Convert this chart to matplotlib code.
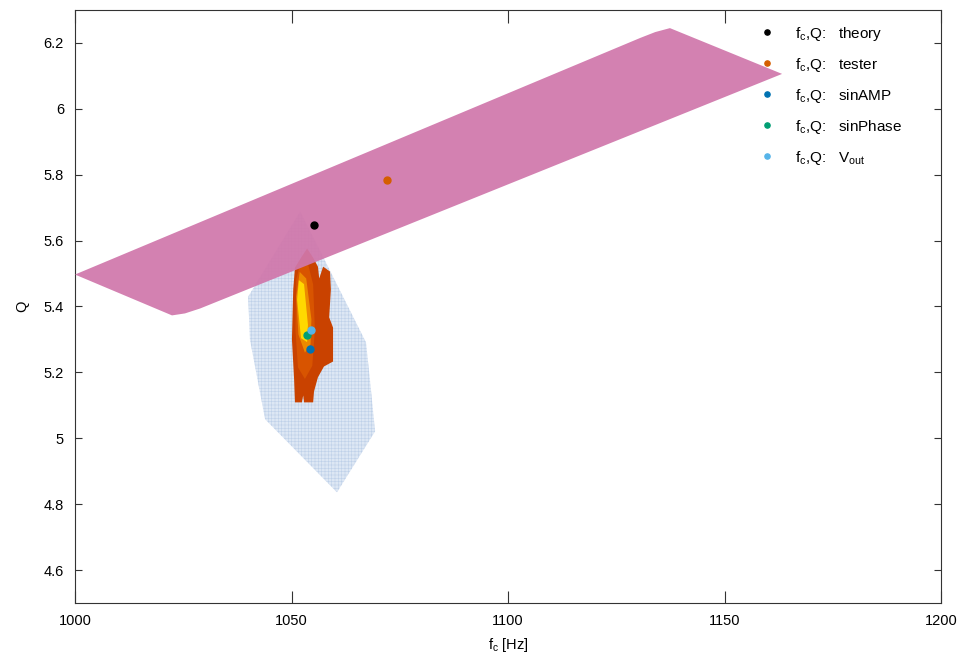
import matplotlib
matplotlib.use("Agg")
import matplotlib.pyplot as plt
from matplotlib.ticker import FormatStrFormatter

plt.rcParams['font.family'] = ['Liberation Sans', 'DejaVu Sans']
plt.rcParams['mathtext.default'] = 'regular'
plt.rcParams['hatch.linewidth'] = 0.4

# pink band (tester region)
band_fc = [1000.0, 1022.4, 1025.4, 1028.9, 1163.3, 1137.4, 1134.0, 1130.5]
band_q = [5.497, 5.373, 5.379, 5.394, 6.106, 6.245, 6.233, 6.215]

# light blue hatched region
blue_fc = [1052.0, 1057.0, 1067.2, 1068.1, 1069.3, 1060.5, 1043.9, 1040.4, 1040.0]
blue_q = [5.688, 5.558, 5.291, 5.179, 5.021, 4.836, 5.058, 5.300, 5.430]

# heat region, outer -> inner
heat_outer_fc = [1053.6, 1055.0, 1056.1, 1056.4, 1057.3, 1058.9, 1059.1, 1058.7, 1059.6,
                 1059.6, 1057.5, 1056.1, 1055.2, 1055.0, 1052.9, 1052.7, 1052.4, 1050.8,
                 1050.6, 1050.1, 1050.4, 1050.8, 1052.2]
heat_outer_q = [5.576, 5.548, 5.521, 5.485, 5.521, 5.506, 5.452, 5.367, 5.336,
                5.233, 5.218, 5.185, 5.142, 5.109, 5.109, 5.130, 5.109, 5.109,
                5.179, 5.300, 5.452, 5.518, 5.548]
heat_mid_fc = [1052.0, 1053.8, 1055.0, 1055.4, 1054.8, 1053.1, 1051.5, 1050.9, 1051.1]
heat_mid_q = [5.530, 5.530, 5.467, 5.330, 5.220, 5.180, 5.215, 5.330, 5.482]
heat_in_fc = [1051.9, 1053.4, 1054.6, 1054.4, 1053.1, 1051.6, 1051.1]
heat_in_q = [5.505, 5.485, 5.361, 5.285, 5.260, 5.315, 5.430]
heat_core_fc = [1051.7, 1052.9, 1053.8, 1053.6, 1052.2, 1051.3]
heat_core_q = [5.480, 5.468, 5.344, 5.292, 5.304, 5.420]
heat_colors = ['#c94200', '#d85400', '#ec8a00', '#ffd800']

# fitted points
labels = ['theory', 'tester', 'sinAMP', 'sinPhase', 'V$_{out}$']
fc_pts = [1055.2, 1072.1, 1054.3, 1053.5, 1054.5]
q_pts = [5.648, 5.785, 5.270, 5.312, 5.328]
pt_colors = ['#000000', '#d55e00', '#0072b2', '#009e73', '#56b4e9']

fig = plt.figure(figsize=(9.63, 6.55), dpi=100)
ax = fig.add_axes([75/963, 52/655, 866/963, 593/655])

ax.fill(blue_fc, blue_q, facecolor='#dde7f4', edgecolor='#bed0e9',
        hatch='+++++', linewidth=0, zorder=1)

heat = [(heat_outer_fc, heat_outer_q), (heat_mid_fc, heat_mid_q),
        (heat_in_fc, heat_in_q), (heat_core_fc, heat_core_q)]
for (hx, hy), c in zip(heat, heat_colors):
    ax.fill(hx, hy, color=c, linewidth=0, zorder=2)

ax.fill(band_fc, band_q, color='#d077ab', alpha=0.93, linewidth=0, zorder=3)

for lab, x, y, c in zip(labels, fc_pts, q_pts, pt_colors):
    ax.plot(x, y, 'o', color=c, markersize=5, zorder=4,
            label='f$_c$,Q:   ' + lab)

ax.set_xlim(1000, 1200)
ax.set_ylim(4.5, 6.3)
ax.set_xticks([1000, 1050, 1100, 1150, 1200])
ax.set_yticks([4.6, 4.8, 5.0, 5.2, 5.4, 5.6, 5.8, 6.0, 6.2])
ax.yaxis.set_major_formatter(FormatStrFormatter('%g'))
ax.tick_params(axis='both', direction='in', top=True, right=True,
               labelsize=10.5, color='#333333', pad=8)
ax.tick_params(axis='x', length=9)
ax.tick_params(axis='y', length=5)
for s in ax.spines.values():
    s.set_color('#333333')

ax.set_xlabel('f$_c$ [Hz]', fontsize=10.5, labelpad=6)
ax.set_ylabel('Q', fontsize=10.5, labelpad=10)

ax.legend(loc='upper left', bbox_to_anchor=(0.79, 0.975), frameon=False,
          fontsize=11, handlelength=1.0, handletextpad=1.35,
          labelspacing=0.85, markerscale=0.75, borderaxespad=0, borderpad=0)

fig.savefig('out.png', dpi=100)
